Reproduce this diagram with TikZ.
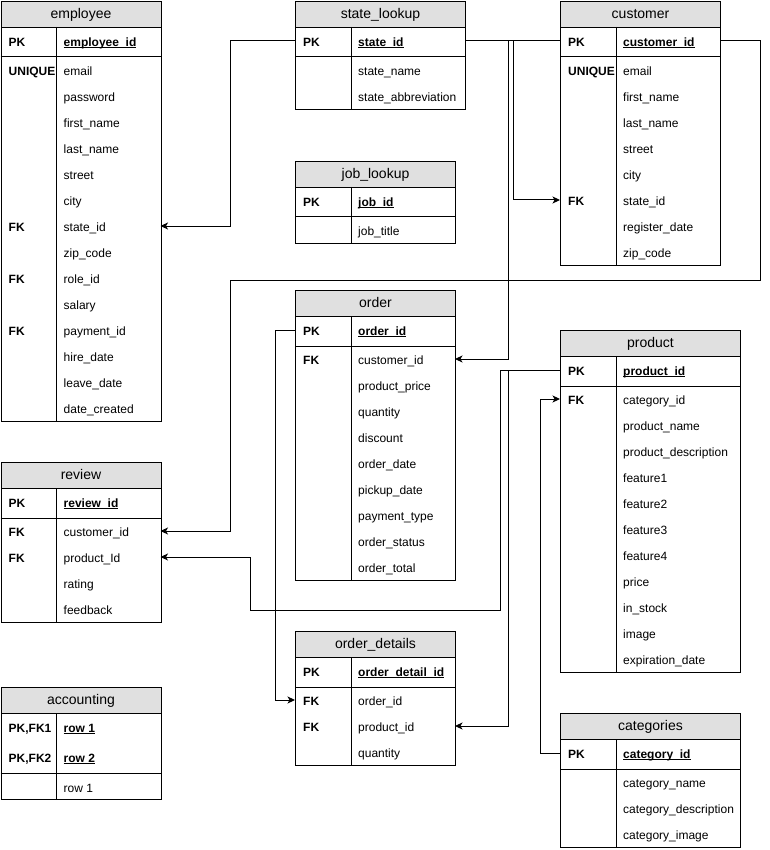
\documentclass[tikz,border=0pt]{standalone}
\usepackage{fontspec}
\setmainfont{Liberation Sans}
\usetikzlibrary{arrows.meta}

\definecolor{hdrgray}{HTML}{E0E0E0}

% underline placed just under the baseline, as in the ER tool output
\newcommand\pkul[1]{\setbox0\hbox{#1}\rlap{\rule[-1.7pt]{\wd0}{0.9pt}}\box0}

\tikzset{
  tblline/.style={draw=black, line width=1pt},
  tblbox/.style={draw=black, line width=1pt, anchor=north west, inner sep=0pt},
  hdrbox/.style={draw=black, fill=hdrgray, line width=1pt, anchor=north west, inner sep=0pt,
    text height=9pt, text depth=1.6pt, font=\fontsize{14}{16}\selectfont},
  keytxt/.style={anchor=west, inner sep=0pt, text height=8.6pt, text depth=0pt, yshift=-0.8pt,
    font=\fontsize{12}{14}\selectfont\bfseries},
  fldtxt/.style={anchor=west, inner sep=0pt, text height=8.6pt, text depth=0pt, yshift=-0.8pt,
    font=\fontsize{12}{14}\selectfont},
  relline/.style={draw=black, line width=1pt, -{Stealth[length=7.5pt,width=7pt,inset=2pt]}},
}

% #1 id, #2 left x, #3 top y, #4 width, #5 number of plain rows,
% #6 title, #7 primary key label, #8 primary key field, #9 rows as key/field
\newcommand\ertable[9]{%
  \begin{scope}[shift={(#2,#3)}]
    \node[hdrbox, minimum width=#4pt, minimum height=26pt] (#1-title) at (0,0) {#6};
    \node[tblbox, minimum width=#4pt, minimum height={(56+26*#5)*1pt}] (#1) at (0,0) {};
    \draw[tblline] (0,56) -- (#4,56);
    \draw[tblline] (56,26) -- (56,{56+26*#5});
    \node[keytxt] (#1-pkkey) at (8,40) {#7};
    \node[keytxt] (#1-pkfld) at (63,40) {\pkul{#8}};
    \coordinate (#1-pkw) at (0,40);
    \coordinate (#1-pke) at (#4,40);
    \foreach \rkey/\rfld [count=\ri] in {#9} {
      \node[keytxt] (#1-key\ri) at (8,{69+26*(\ri-1)}) {\rkey};
      \node[fldtxt] (#1-fld\ri) at (63,{69+26*(\ri-1)}) {\rfld};
      \coordinate (#1-w\ri) at (0,{69+26*(\ri-1)});
      \coordinate (#1-e\ri) at (#4,{69+26*(\ri-1)});
    }
  \end{scope}%
}

\begin{document}
\begin{tikzpicture}[x=1pt, y=-1pt]
  \useasboundingbox (0,0) rectangle (769,850);

  \ertable{emp}{0.5}{1}{160}{14}{employee}{PK}{employee\_id}{%
    UNIQUE/email, /password, /first\_name, /last\_name, /street, /city,
    FK/state\_id, /zip\_code, FK/role\_id, /salary, FK/payment\_id,
    /hire\_date, /leave\_date, /date\_created}

  \ertable{st}{295}{1}{170}{2}{state\_lookup}{PK}{state\_id}{%
    /state\_name, /state\_abbreviation}

  \ertable{cus}{560}{1}{160}{8}{customer}{PK}{customer\_id}{%
    UNIQUE/email, /first\_name, /last\_name, /street, /city,
    FK/state\_id, /register\_date, /zip\_code}

  \ertable{job}{295}{161}{160}{1}{job\_lookup}{PK}{job\_id}{/job\_title}

  \ertable{ord}{295}{290}{160}{9}{order}{PK}{order\_id}{%
    FK/customer\_id, /product\_price, /quantity, /discount, /order\_date,
    /pickup\_date, /payment\_type, /order\_status, /order\_total}

  \ertable{prd}{560}{330}{180}{11}{product}{PK}{product\_id}{%
    FK/category\_id, /product\_name, /product\_description, /feature1,
    /feature2, /feature3, /feature4, /price, /in\_stock, /image,
    /expiration\_date}

  \ertable{rev}{0.5}{462}{160}{4}{review}{PK}{review\_id}{%
    FK/customer\_id, FK/product\_Id, /rating, /feedback}

  \ertable{od}{295}{631}{160}{3}{order\_details}{PK}{order\_detail\_id}{%
    FK/order\_id, FK/product\_id, /quantity}

  \ertable{cat}{560}{713}{180}{3}{categories}{PK}{category\_id}{%
    /category\_name, /category\_description, /category\_image}

  % accounting: composite key block of two rows, then one plain row
  \begin{scope}[shift={(0.5,687)}]
    \node[hdrbox, minimum width=160pt, minimum height=26pt] (acc-title) at (0,0) {accounting};
    \node[tblbox, minimum width=160pt, minimum height=112pt] (acc) at (0,0) {};
    \draw[tblline] (0,86) -- (160,86);
    \draw[tblline] (56,26) -- (56,112);
    \node[keytxt] (acc-key1) at (8,40) {PK,FK1};
    \node[keytxt] (acc-fld1) at (63,40) {\pkul{row 1}};
    \node[keytxt] (acc-key2) at (8,70) {PK,FK2};
    \node[keytxt] (acc-fld2) at (63,70) {\pkul{row 2}};
    \node[fldtxt] (acc-fld3) at (63,100) {row 1};
  \end{scope}

  % relationships
  \draw[relline] (st-pkw) -- ++(-65,0) |- (emp-e7);
  \draw[relline] (st-pke) -- ++(48,0) |- (cus-w6);
  \draw[relline] (cus-pkw) -- ++(-52,0) |- (ord-e1);
  \draw[relline] (cus-pke) -- ++(40,0) -- ++(0,239) -- ++(-530,0) |- (rev-e1);
  \draw[relline] (prd-pkw) -- ++(-60,0) -- ++(0,240) -- ++(-250,0) |- (rev-e2);
  \draw[relline] (prd-pkw) -- ++(-52,0) |- (od-e2);
  \draw[relline] (ord-pkw) -- ++(-20,0) |- (od-w1);
  \draw[relline] (cat-pkw) -- ++(-20,0) |- (prd-w1);
\end{tikzpicture}
\end{document}
